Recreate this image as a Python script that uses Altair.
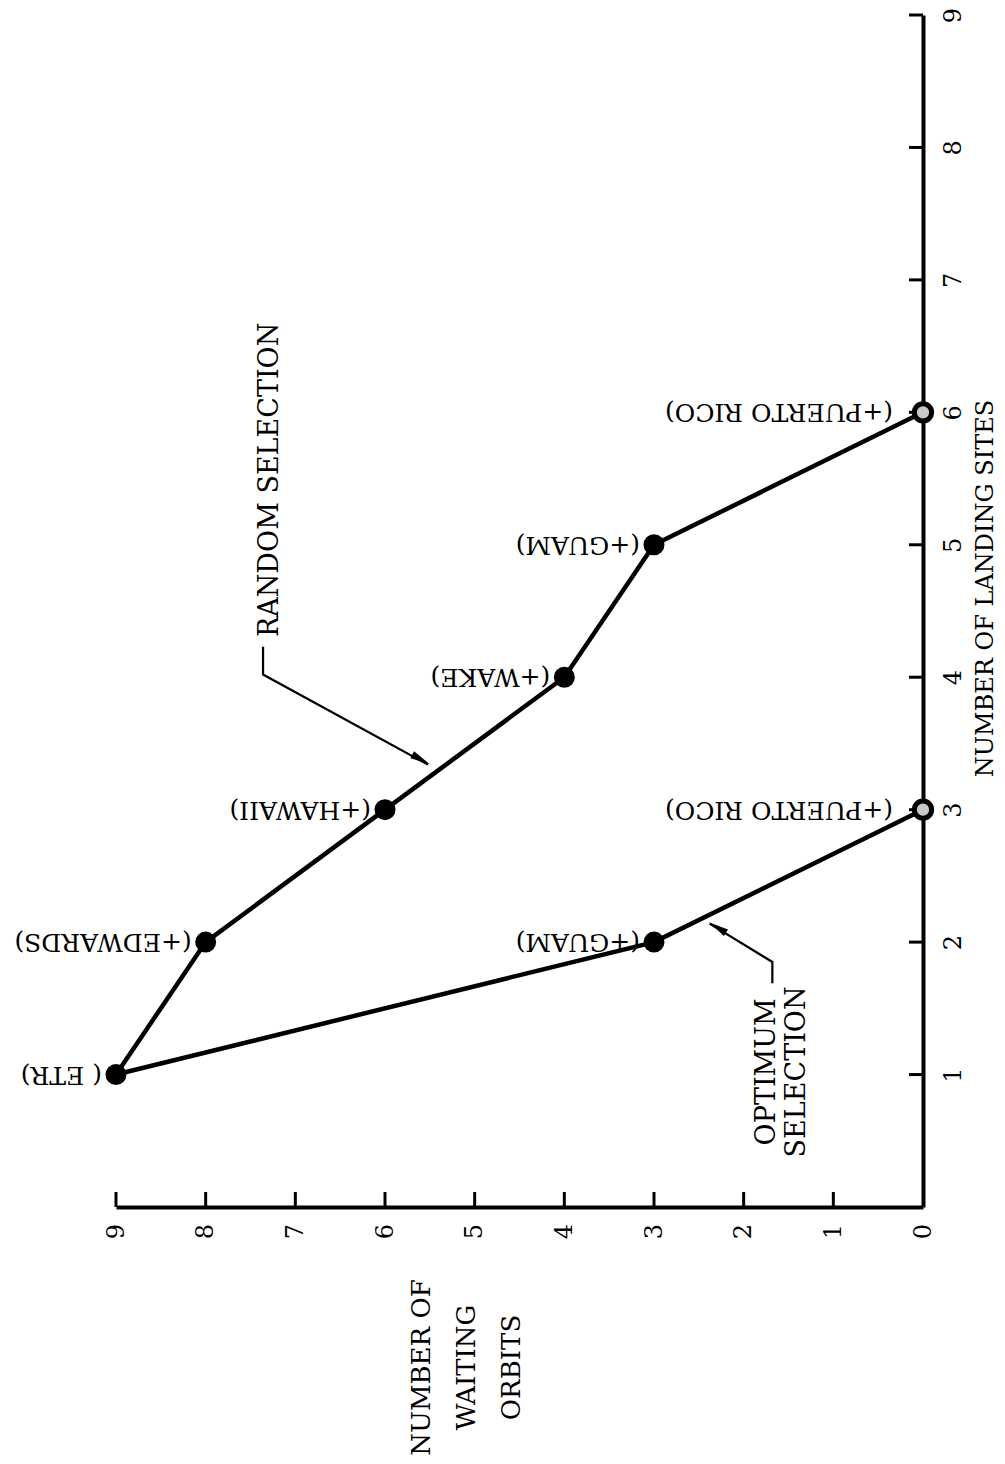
import altair as alt
import pandas as pd

# ---- data ----
sites_random = [1, 2, 3, 4, 5, 6]
orbits_random = [9, 8, 6, 4, 3, 0]
labels_random = ["( ETR)", "(+EDWARDS)", "(+HAWAII)", "(+WAKE)", "(+GUAM)", "(+PUERTO RICO)"]

sites_opt = [1, 2, 3]
orbits_opt = [9, 3, 0]
labels_opt = ["( ETR)", "(+GUAM)", "(+PUERTO RICO)"]

orbit_ticks = [0, 1, 2, 3, 4, 5, 6, 7, 8, 9]
site_ticks = [1, 2, 3, 4, 5, 6, 7, 8, 9]

# annotation anchors (data units)
note_text = ["RANDOM SELECTION", "OPTIMUM\nSELECTION"]
note_orbits = [7.28, 1.74]
note_sites = [5.49, 1.02]

leader_seg = ["r", "r", "r", "o", "o", "o"]
leader_orbits = [7.36, 7.36, 5.52, 1.68, 1.68, 2.38]
leader_sites = [4.23, 4.02, 3.34, 1.69, 1.85, 2.14]
leader_order = [0, 1, 2, 0, 1, 2]

arrow_orbits = [5.60, 2.29]
arrow_sites = [3.38, 2.11]
arrow_angle = [118, 302]

# ---- tables ----
rand = pd.DataFrame({"sites": sites_random, "orbits": orbits_random,
                     "label": labels_random, "series": "random"})
opt = pd.DataFrame({"sites": sites_opt, "orbits": orbits_opt,
                    "label": labels_opt, "series": "optimum"})
lines = pd.concat([rand, opt], ignore_index=True)
pts = lines.drop_duplicates(subset=["sites", "orbits"]).reset_index(drop=True)
pts["open"] = pts["orbits"] == 0
filled_pts = pts[~pts["open"]]
open_pts = pts[pts["open"]]

notes = pd.DataFrame({"orbits": note_orbits, "sites": note_sites, "text": note_text})
leaders = pd.DataFrame({"orbits": leader_orbits, "sites": leader_sites,
                        "seg": leader_seg, "ord": leader_order})
arrows = pd.DataFrame({"orbits": arrow_orbits, "sites": arrow_sites, "ang": arrow_angle})
xt = pd.DataFrame({"orbits": [v for v in orbit_ticks if v > 0]})
yt = pd.DataFrame({"sites": site_ticks})

W, H = 807, 1192
FONT = "DejaVu Serif"

x_axis = alt.Axis(values=orbit_ticks, orient="bottom", grid=False, ticks=False, tickSize=0,
                  labelAngle=270, labelAlign="center", labelBaseline="middle",
                  labelPadding=24, labelFont=FONT, labelFontSize=24, labelColor="black",
                  domainColor="black", domainWidth=4,
                  title=["NUMBER OF", "WAITING", "ORBITS"], titleAngle=270,
                  titleAlign="center", titleBaseline="middle", titleX=305, titleY=160,
                  titleLineHeight=45, titleFont=FONT, titleFontSize=26,
                  titleFontWeight="normal", titleColor="black")
y_axis = alt.Axis(values=site_ticks, orient="right", grid=False, ticks=False, tickSize=0,
                  labelAngle=270, labelAlign="center", labelBaseline="middle",
                  labelPadding=30, labelFont=FONT, labelFontSize=24, labelColor="black",
                  domainColor="black", domainWidth=4,
                  title="NUMBER OF LANDING SITES", titleAngle=270,
                  titleAlign="center", titleBaseline="middle", titleX=62, titleY=573,
                  titleFont=FONT, titleFontSize=24, titleFontWeight="normal",
                  titleColor="black")

xs = alt.Scale(domain=[0, 9], reverse=True, nice=False, zero=False)
ys = alt.Scale(domain=[0, 9], nice=False, zero=False)


def X():
    return alt.X("orbits:Q", scale=xs, axis=x_axis)


def Y():
    return alt.Y("sites:Q", scale=ys, axis=y_axis)


line_layer = alt.Chart(lines).mark_line(color="black", strokeWidth=4.5).encode(
    x=X(), y=Y(), detail="series:N", order="sites:Q")

x_tick_layer = alt.Chart(xt).mark_rule(color="black", strokeWidth=3).encode(
    x=X(), y=alt.value(H), y2=alt.value(H - 15))
y_tick_layer = alt.Chart(yt).mark_rule(color="black", strokeWidth=3).encode(
    y=Y(), x=alt.value(W), x2=alt.value(W - 14))

filled_layer = alt.Chart(filled_pts).mark_point(
    filled=True, color="black", size=440, opacity=1).encode(x=X(), y=Y())
open_layer = alt.Chart(open_pts).mark_point(
    filled=True, fill="#c8c8c8", stroke="black", strokeWidth=5, size=300, opacity=1
).encode(x=X(), y=Y())

label_layer = alt.Chart(filled_pts).mark_text(
    angle=180, align="left", baseline="middle", dx=14, font=FONT, fontSize=25,
    color="black").encode(x=X(), y=Y(), text="label:N")
label_open_layer = alt.Chart(open_pts).mark_text(
    angle=180, align="left", baseline="middle", dx=30, font=FONT, fontSize=25,
    color="black").encode(x=X(), y=Y(), text="label:N")

leader_layer = alt.Chart(leaders).mark_line(color="black", strokeWidth=2.2).encode(
    x=X(), y=Y(), detail="seg:N", order="ord:Q")
arrow_layer = alt.Chart(arrows).mark_point(
    shape="M0,-1L0.4,1L-0.4,1Z", filled=True, color="black", size=380, opacity=1
).encode(x=X(), y=Y(), angle=alt.Angle("ang:Q", scale=None))

note_layer = alt.Chart(notes).mark_text(
    angle=270, align="center", baseline="middle", lineBreak="\n", lineHeight=30,
    font=FONT, fontSize=27, color="black").encode(x=X(), y=Y(), text="text:N")

chart = alt.layer(
    line_layer, x_tick_layer, y_tick_layer, leader_layer, arrow_layer,
    filled_layer, open_layer, label_layer, label_open_layer, note_layer
).properties(
    width=W, height=H,
    autosize=alt.AutoSizeParams(type="none"),
    padding={"left": 116, "top": 15, "right": 82, "bottom": 257},
    background="white",
).configure_view(stroke=None)

chart.save("out.html", embed_options={"renderer": "svg", "actions": False})
